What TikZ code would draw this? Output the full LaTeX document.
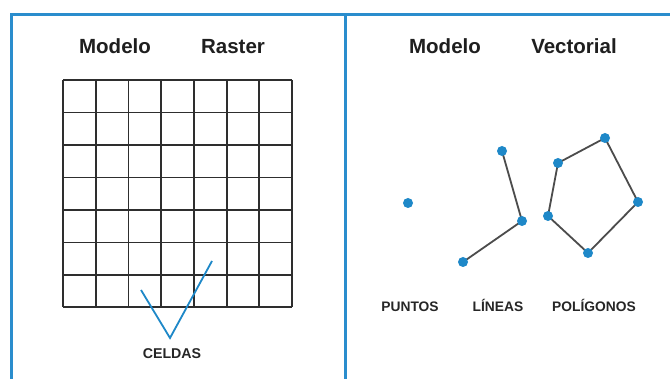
\documentclass[tikz,border=0pt]{standalone}
\usepackage{fontspec}
\setmainfont{Liberation Sans}
\begin{document}
\begin{tikzpicture}[x=1pt,y=-1pt,
  frame/.style={draw=framecol,line width=3pt},
  title/.style={font=\fontsize{20.5}{22}\selectfont\bfseries,text=black!88,inner sep=0pt,anchor=base},
  lbl/.style={font=\fontsize{13.8}{15}\selectfont\bfseries,text=black!85,inner sep=0pt,anchor=base},
  gridline/.style={draw=black!82,line width=1.8pt},
  edge/.style={draw=black!70,line width=1.8pt},
  pt/.style={circle,fill=dotcol,minimum size=10pt,inner sep=0pt},
  vmark/.style={draw=dotcol,line width=1.8pt}]
\definecolor{framecol}{HTML}{2A8DCD}
\definecolor{dotcol}{HTML}{1E88C8}
\useasboundingbox (0,0) rectangle (670,379);
\fill[white] (0,0) rectangle (670,379);
% frame
\draw[frame] (11,379) -- (11,15) -- (672,15);
\draw[frame] (345,15) -- (345,379);
% titles
\node[title] (t1) at (115,54) {Modelo};
\node[title] (t2) at (233,54) {Raster};
\node[title] (t3) at (445,54) {Modelo};
\node[title] (t4) at (574,54) {Vectorial};
% raster grid
\foreach \x in {63,95.7,128.4,161.1,193.9,226.6,259.3,292}
  \draw[gridline] (\x,80) -- (\x,307);
\foreach \y in {80,112.5,145,177.5,210,242.5,275,307}
  \draw[gridline] (63,\y) -- (292,\y);
% celdas marker
\coordinate (va) at (141,290);
\coordinate (vb) at (170,338);
\coordinate (vc) at (212,261);
\draw[vmark] (va) -- (vb) -- (vc);
\node[lbl,font=\fontsize{14.2}{15}\selectfont\bfseries] (celdas) at (172,358.5) {CELDAS};
% vector: lines
\draw[edge] (502,151) -- (522,221) -- (463,262);
% polygon
\draw[edge] (558,163) -- (605,138) -- (638,202) -- (588,253) -- (548,216) -- cycle;
% points
\node[pt] (p0) at (408,203) {};
\node[pt] (l1) at (502,151) {};
\node[pt] (l2) at (522,221) {};
\node[pt] (l3) at (463,262) {};
\node[pt] (g1) at (558,163) {};
\node[pt] (g2) at (605,138) {};
\node[pt] (g3) at (638,202) {};
\node[pt] (g4) at (588,253) {};
\node[pt] (g5) at (548,216) {};
% labels
\node[lbl] (puntos) at (410,312) {PUNTOS};
\node[lbl] (lineas) at (498,312) {LÍNEAS};
\node[lbl] (poligonos) at (594,312) {POLÍGONOS};
\end{tikzpicture}
\end{document}
